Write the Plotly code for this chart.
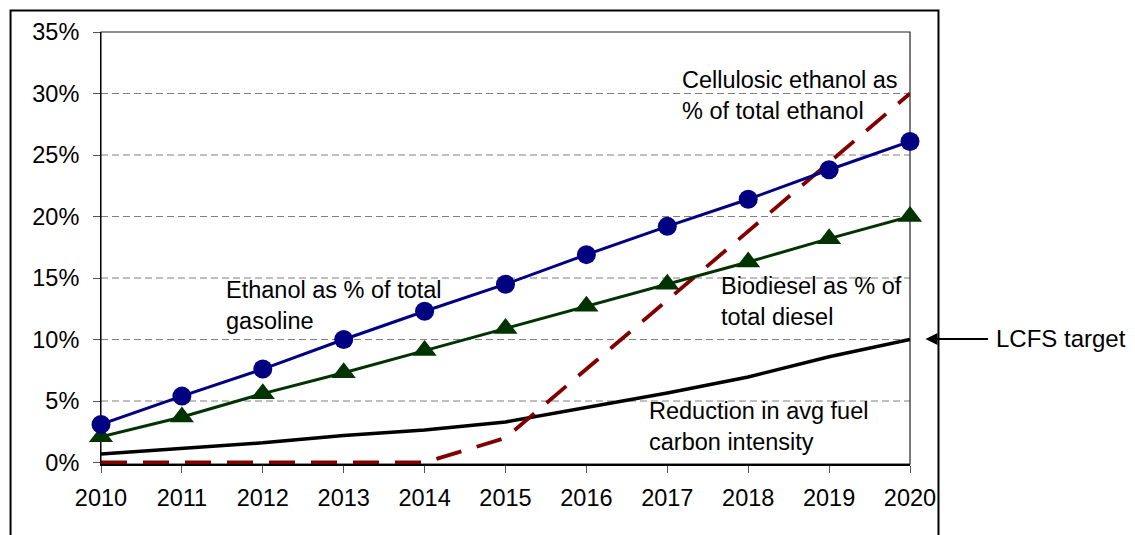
import plotly.graph_objects as go

years = [2010, 2011, 2012, 2013, 2014, 2015, 2016, 2017, 2018, 2019, 2020]
ethanol_pct_gasoline = [3.1, 5.4, 7.6, 10.0, 12.3, 14.5, 16.9, 19.2, 21.4, 23.8, 26.1]
biodiesel_pct_diesel = [2.1, 3.7, 5.6, 7.3, 9.1, 10.9, 12.7, 14.5, 16.3, 18.2, 20.0]
carbon_reduction = [0.7, 1.15, 1.6, 2.2, 2.65, 3.3, 4.45, 5.65, 6.95, 8.6, 10.0]
cellulosic_pct_ethanol = [0, 0, 0, 0, 0, 2.0, 7.6, 13.2, 18.8, 24.4, 30.0]
y_ticks = [0, 5, 10, 15, 20, 25, 30, 35]
y_tick_labels = [f"{v}%" for v in y_ticks]

FONT = "Liberation Sans, Arial, sans-serif"
# page body has an 8px margin; figure is sized so the plot area lands where intended
OFF = 8
WIN_W, WIN_H = 1135, 535
Y_MIN = -0.12  # tiny headroom so the dashed line on 0% is not clipped
PX_PER_PCT = 430.5 / 35
PLOT_L, PLOT_R, PLOT_T = 101, 910.5, 32
PLOT_B = 462.5 - Y_MIN * PX_PER_PCT
W, H = WIN_W - OFF, WIN_H - OFF
L, R, T, B = PLOT_L - OFF, WIN_W - PLOT_R, PLOT_T - OFF, WIN_H - PLOT_B
pw, ph = PLOT_R - PLOT_L, PLOT_B - PLOT_T


def px(x):
    return (x - PLOT_L) / pw


def py(y):
    return (PLOT_B - y) / ph


fig = go.Figure()

# dashed horizontal gridlines (interior ticks only)
for v in y_ticks:
    if y_ticks[0] < v < y_ticks[-1]:
        fig.add_shape(type="line", xref="paper", yref="y", x0=0, x1=1, y0=v, y1=v,
                      line=dict(color="#7f7f7f", width=1, dash="7px,4px"), layer="below")

fig.add_trace(go.Scatter(
    x=years, y=carbon_reduction, mode="lines",
    line=dict(color="black", width=3.5), cliponaxis=False, name="Reduction"))
fig.add_trace(go.Scatter(
    x=years, y=cellulosic_pct_ethanol, mode="lines",
    line=dict(color="#800000", width=3.8, dash="26px,16px"), cliponaxis=False, name="Cellulosic"))
fig.add_trace(go.Scatter(
    x=years, y=biodiesel_pct_diesel, mode="lines+markers",
    line=dict(color="#003300", width=3),
    marker=dict(symbol="triangle-up", size=21, color="#003300", line=dict(width=0)),
    cliponaxis=False, name="Biodiesel"))
fig.add_trace(go.Scatter(
    x=years, y=ethanol_pct_gasoline, mode="lines+markers",
    line=dict(color="#000080", width=3),
    marker=dict(symbol="circle", size=19, color="#000080", line=dict(width=0)),
    cliponaxis=False, name="Ethanol"))

ann_font = dict(family=FONT, size=23.5, color="black")
annotations = [
    dict(x=2017.16, y=29.85, text="Cellulosic ethanol as<br>% of total ethanol"),
    dict(x=2011.52, y=12.74, text="Ethanol as % of total<br>gasoline"),
    dict(x=2017.64, y=13.07, text="Biodiesel as % of<br>total diesel"),
    dict(x=2016.75, y=2.89, text="Reduction in avg fuel<br>carbon intensity"),
]
for a in annotations:
    fig.add_annotation(xref="x", yref="y", xanchor="left", yanchor="middle", align="left",
                       showarrow=False, font=ann_font, **a)

fig.add_annotation(xref="paper", yref="y", x=px(995), y=10.05, text="LCFS target",
                   xanchor="left", yanchor="middle", showarrow=False,
                   font=dict(family=FONT, size=24, color="black"))
fig.add_annotation(xref="paper", yref="y", x=px(926), y=10.05, text="",
                   showarrow=True, ax=64, ay=0, arrowhead=2, arrowsize=1.2,
                   arrowwidth=2, arrowcolor="black", standoff=0)

# plot frame
fig.add_shape(type="rect", xref="paper", yref="paper", x0=0, y0=0, x1=1, y1=1,
              line=dict(color="#222222", width=1.2), layer="between")
# outer chart border
fig.add_shape(type="rect", xref="paper", yref="paper",
              x0=px(10.5), x1=px(939), y0=py(545), y1=py(10.5),
              line=dict(color="black", width=2), layer="above")

fig.update_layout(
    width=W, height=H,
    margin=dict(l=L, r=R, t=T, b=B, pad=0),
    paper_bgcolor="white", plot_bgcolor="white",
    showlegend=False,
    font=dict(family=FONT, size=23.5, color="black"),
    xaxis=dict(
        range=[2010, 2020], tickmode="array", tickvals=years,
        ticktext=[str(y) for y in years],
        showgrid=False, zeroline=False,
        showline=True, linecolor="black", linewidth=2,
        ticks="outside", ticklen=7, tickwidth=1, tickcolor="#555555",
        tickfont=dict(family=FONT, size=23.5, color="black"),
        ticklabelstandoff=5, layer="below traces",
    ),
    yaxis=dict(
        range=[Y_MIN, 35], tickmode="array", tickvals=y_ticks, ticktext=y_tick_labels,
        showgrid=False, zeroline=False,
        showline=True, linecolor="black", linewidth=1,
        ticks="outside", ticklen=7, tickwidth=1, tickcolor="#555555",
        tickfont=dict(family=FONT, size=23.5, color="black"),
        ticklabelstandoff=9, layer="below traces",
    ),
)

fig.write_html("out.html")
